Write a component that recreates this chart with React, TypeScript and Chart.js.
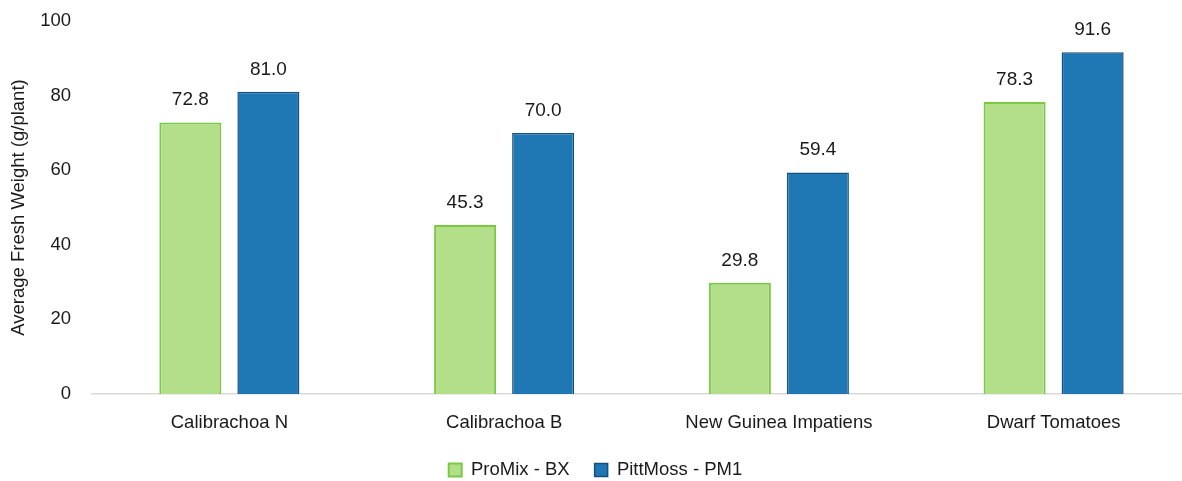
import React, { useEffect, useRef } from "react";
import { Chart, registerables } from "chart.js";

Chart.register(...registerables);

const categories = ["Calibrachoa N", "Calibrachoa B", "New Guinea Impatiens", "Dwarf Tomatoes"];
const proMixValues = [72.8, 45.3, 29.8, 78.3];
const pittMossValues = [81.0, 70.0, 59.4, 91.6];
const seriesNames = ["ProMix - BX", "PittMoss - PM1"];
const yTicks = [0, 20, 40, 60, 80, 100];

const FONT = "'Liberation Sans', Arial, sans-serif";
const TEXT = "#1a1a1a";
const LEGEND_HEIGHT = 45.25;

// Writes each bar's value above it with one decimal place.
const valueLabels = {
  id: "valueLabels",
  afterDatasetsDraw(chart: any) {
    const ctx = chart.ctx;
    ctx.save();
    ctx.font = `19px ${FONT}`;
    ctx.fillStyle = TEXT;
    ctx.textAlign = "center";
    ctx.textBaseline = "alphabetic";
    chart.data.datasets.forEach((ds: any, i: number) => {
      const meta = chart.getDatasetMeta(i);
      meta.data.forEach((bar: any, j: number) => {
        const v = ds.data[j] as number;
        ctx.fillText(v.toFixed(1), bar.x, bar.y - 17);
      });
    });
    ctx.restore();
  },
};

export default function App() {
  const canvasRef = useRef<HTMLCanvasElement | null>(null);

  useEffect(() => {
    if (!canvasRef.current) return;
    const chart = new Chart(canvasRef.current, {
      type: "bar",
      data: {
        labels: categories,
        datasets: [
          {
            label: seriesNames[0],
            data: proMixValues,
            backgroundColor: "#B4DF8A",
            borderColor: "#7BC843",
            borderWidth: 2,
          },
          {
            label: seriesNames[1],
            data: pittMossValues,
            backgroundColor: "#1F77B4",
            borderColor: "#17507D",
            borderWidth: 1.5,
          },
        ],
      },
      options: {
        animation: false,
        responsive: false,
        maintainAspectRatio: false,
        datasets: {
          bar: { categoryPercentage: 0.568, barPercentage: 0.795 },
        } as any,
        layout: { padding: { top: 21, right: 0, bottom: 0, left: 0 } },
        plugins: {
          legend: {
            position: "bottom",
            labels: {
              boxWidth: 13,
              boxHeight: 13,
              padding: 25,
              color: TEXT,
              font: { family: FONT, size: 18.5 },
            },
          },
          tooltip: { enabled: false },
        },
        scales: {
          x: {
            afterFit(scale: any) {
              scale.height = 481 - LEGEND_HEIGHT - 394;
              scale.paddingLeft = 0;
              scale.paddingRight = 0;
            },
            grid: { display: false, drawTicks: false },
            border: { display: true, color: "#D9D9D9", width: 1.5 },
            ticks: { color: TEXT, padding: 18, font: { family: FONT, size: 18.5 } },
          },
          y: {
            min: 0,
            max: 100,
            afterBuildTicks(scale: any) {
              scale.ticks = yTicks.map((v) => ({ value: v }));
            },
            afterFit(scale: any) {
              scale.width = 92;
              scale.paddingTop = 0;
              scale.paddingBottom = 0;
            },
            grid: { display: false, drawTicks: false },
            border: { display: false },
            ticks: { color: TEXT, padding: 21, font: { family: FONT, size: 18.5 } },
            title: {
              display: true,
              text: "Average Fresh Weight (g/plant)",
              color: TEXT,
              font: { family: FONT, size: 18.5 },
              padding: { top: 8, bottom: 0 },
            },
          },
        },
      },
      plugins: [valueLabels],
    });

    // Legend keeps wide gaps between its items but a short box at the bottom.
    const legend: any = (chart as any).legend;
    if (legend) {
      const baseFit = legend.fit.bind(legend);
      legend.fit = function () {
        baseFit();
        this.height = LEGEND_HEIGHT;
      };
      chart.update();
    }

    return () => chart.destroy();
  }, []);

  return (
    <div
      style={{
        position: "fixed",
        left: 0,
        top: 0,
        width: 1182,
        height: 481,
        overflow: "hidden",
        background: "#fff",
      }}
    >
      <canvas ref={canvasRef} width={1191} height={481} style={{ display: "block" }} />
    </div>
  );
}
